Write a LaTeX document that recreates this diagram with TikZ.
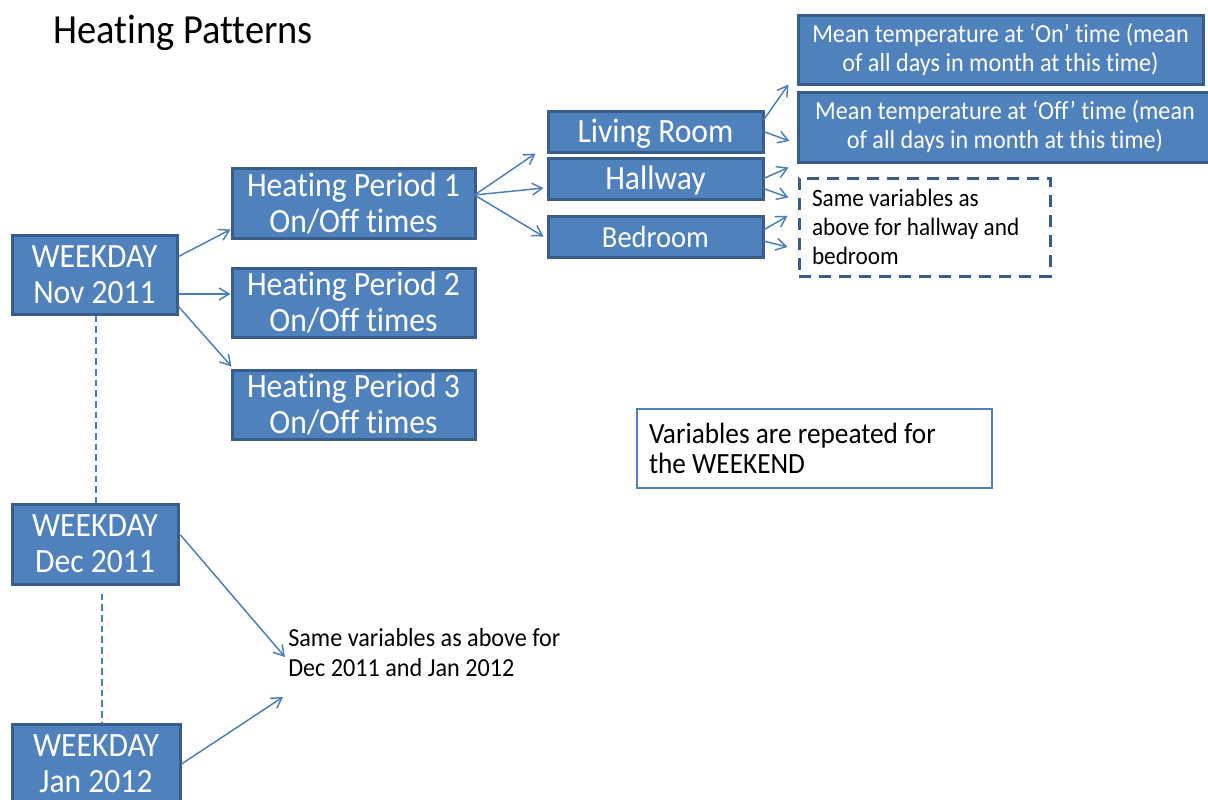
\documentclass[tikz,border=0pt]{standalone}
\usepackage{fontspec}
\setmainfont{Carlito}[FakeStretch=0.93, Ligatures=NoCommon]
\usetikzlibrary{arrows.meta,calc}
\definecolor{boxfill}{HTML}{4F81BD}
\definecolor{boxline}{HTML}{385D8A}
\definecolor{linkblue}{HTML}{4A7EBB}
\tikzset{
  boxsize/.style 2 args={minimum width=#1*0.75pt, minimum height=#2*0.75pt},
  bluebox/.style={shape=rectangle, draw=boxline, line width=2.25pt, fill=boxfill, text=white, align=center, inner sep=0pt, font=\fontsize{25.5pt}{27pt}\selectfont},
  roombox/.style={bluebox, boxsize={215}{41}, text height=19pt, text depth=3.2pt},
  meanbox/.style={bluebox, font=\fontsize{19.5pt}{21.75pt}\selectfont},
  dashbox/.style={shape=rectangle, draw=boxline, line width=2.25pt, dash pattern=on 9pt off 6pt, align=flush left, inner sep=0pt, font=\fontsize{18.75pt}{21.75pt}\selectfont},
  notebox/.style={shape=rectangle, draw=boxfill, line width=1.2pt, align=flush left, inner sep=0pt, font=\fontsize{22pt}{22.5pt}\selectfont},
  link/.style={draw=linkblue, line width=1.1pt, -{Straight Barb[length=7.5pt,width=9pt]}},
  timeline/.style={draw=linkblue, line width=1.1pt, dash pattern=on 5pt off 3pt},
}
\begin{document}
\begin{tikzpicture}[x=0.75pt, y=-0.75pt]
    \clip (0, 0) rectangle (1208, 800);
    \node (title) [anchor=base west, inner sep=0pt, font=\fontsize{31pt}{33pt}\selectfont] at (53, 43) {Heating Patterns};

    \node (nov) [bluebox, boxsize={165}{79}] at (94.5, 274.5) {WEEKDAY\\Nov 2011};
    \node (dec) [bluebox, boxsize={166}{80}] at (95, 544) {WEEKDAY\\Dec 2011};
    \node (jan) [bluebox, boxsize={168}{80}] at (96, 764) {WEEKDAY\\Jan 2012};

    \node (periodA) [bluebox, boxsize={243}{70}] at (353.5, 203) {Heating Period 1\\On/Off times};
    \node (periodB) [bluebox, boxsize={243}{69}] at (353.5, 302.5) {Heating Period 2\\On/Off times};
    \node (periodC) [bluebox, boxsize={243}{69}] at (353.5, 404.5) {Heating Period 3\\On/Off times};

    \node (living) [roombox] at (655.5, 131.5) {Living Room};
    \node (hallway) [roombox] at (655.5, 178.5) {Hallway};
    \node (bedroom) [roombox, font=\fontsize{23pt}{25pt}\selectfont] at (655.5, 236.5) {Bedroom};

    \node (meanon) [meanbox, boxsize={405}{69}] at (1000.5, 49.5) {Mean temperature at ‘On’ time (mean\\of all days in month at this time)};
    \node (meanoff) [meanbox, boxsize={414}{70}] at (1005, 127) {Mean temperature at ‘Off’ time (mean\\of all days in month at this time)};
    \node (samebox) [dashbox, boxsize={251}{98}, text width=225*0.75pt] at (924.5, 227) {Same variables as\\above for hallway and\\bedroom};

    \node (weekend) [notebox, boxsize={355}{79}, text width=331*0.75pt] at (814.5, 448.5) {Variables are repeated for\\the WEEKEND};
    \node (monthnote) [anchor=north west, inner sep=0pt, align=left, font=\fontsize{19.5pt}{22.5pt}\selectfont] at (288, 628) {Same variables as above for\\Dec 2011 and Jan 2012};

    \draw [link] ($(nov.east)+(0,-18)$) -- ($(periodA.south west)+(0,-10)$);
    \draw [link] ($(nov.east)+(0,19.5)$) -- ($(periodB.west)+(0,-8.5)$);
    \draw [link] ($(nov.east)+(0,32)$) -- ($(periodC.north west)+(1,-2)$);

    \draw [link] ($(periodA.east)+(-2,-8)$) -- ($(living.south west)+(-11,0)$);
    \draw [link] ($(periodA.east)+(-2,-8)$) -- ($(hallway.west)+(-3,9.5)$);
    \draw [link] ($(periodA.east)+(-2,-8)$) -- ($(bedroom.west)+(-3,0)$);

    \draw [link] ($(living.east)+(-1,-11.5)$) -- ($(meanon.south west)+(-8,-1)$);
    \draw [link] ($(living.east)+(-1,0)$) -- ($(meanoff.west)+(-7,14)$);
    \draw [link] ($(hallway.east)+(-1,0)$) -- ($(samebox.north west)+(-9,-9)$);
    \draw [link] ($(hallway.east)+(-1,10)$) -- ($(samebox.north west)+(-9,21)$);
    \draw [link] ($(bedroom.east)+(-1,-6.5)$) -- ($(samebox.west)+(-10,-11)$);
    \draw [link] ($(bedroom.east)+(-1,4.5)$) -- ($(samebox.west)+(-10,20)$);

    \draw [timeline] ($(nov.south)+(1.5,0)$) -- ($(dec.north)+(1,0)$);
    \draw [timeline] ($(dec.south)+(7,8)$) -- ($(jan.north)+(6,0)$);

    \draw [link] ($(dec.east)+(1,-9)$) -- ($(monthnote.north west)+(-3,29)$);
    \draw [link] (jan.east) -- ($(monthnote.north west)+(-5,69)$);
\end{tikzpicture}
\end{document}
